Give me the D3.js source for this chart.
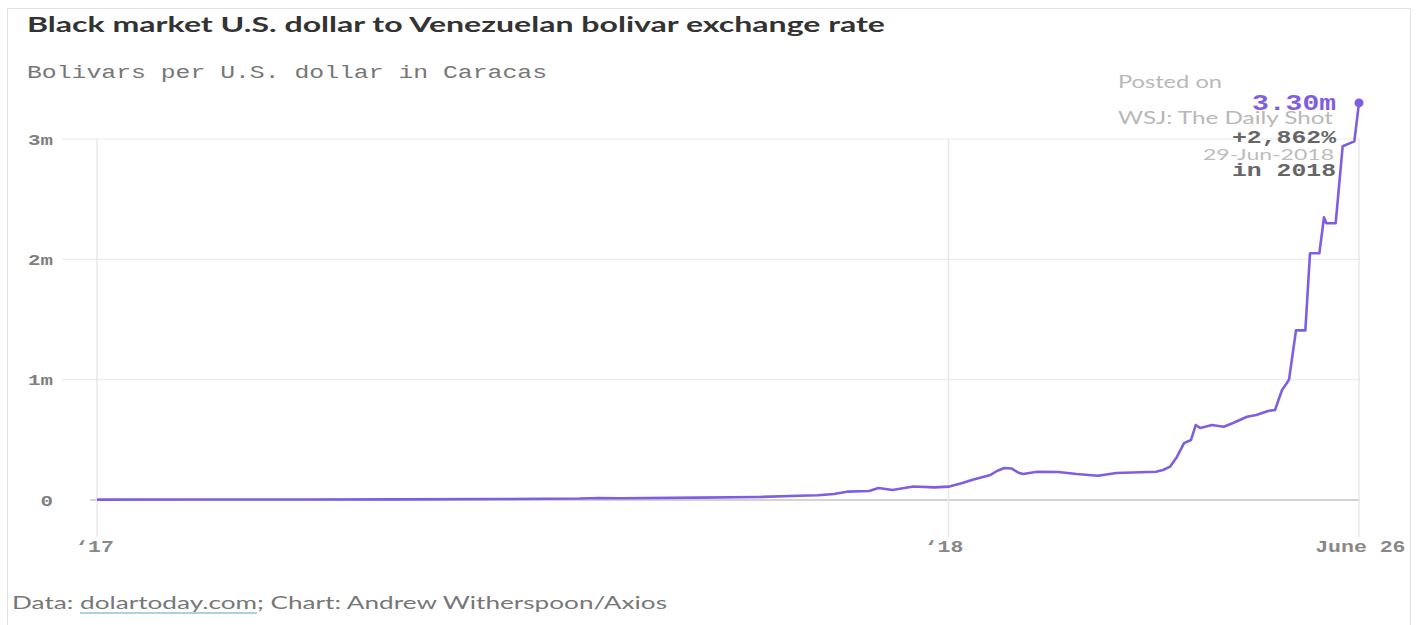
<!DOCTYPE html>
<html><head><meta charset="utf-8">
<script src="https://cdn.jsdelivr.net/npm/d3@7"></script>
<style>
body{margin:0;background:#fff;}
svg{display:block;}
</style></head>
<body>
<svg id="c" width="1421" height="625"></svg>
<script>
const dates = ["2017-01-01","2017-02-14","2017-03-29","2017-05-11","2017-06-22","2017-07-27","2017-08-04","2017-08-13","2017-09-16","2017-10-12","2017-10-29","2017-11-06","2017-11-13","2017-11-19","2017-11-28","2017-12-02","2017-12-08","2017-12-17","2017-12-26","2018-01-01","2018-01-07","2018-01-11","2018-01-19","2018-01-22","2018-01-25","2018-01-28","2018-01-31","2018-02-02","2018-02-08","2018-02-17","2018-02-25","2018-03-06","2018-03-14","2018-03-31","2018-04-03","2018-04-06","2018-04-09","2018-04-12","2018-04-15","2018-04-17","2018-04-19","2018-04-24","2018-04-29","2018-05-03","2018-05-09","2018-05-13","2018-05-18","2018-05-21","2018-05-24","2018-05-26","2018-05-27","2018-05-30","2018-06-03","2018-06-05","2018-06-09","2018-06-11","2018-06-12","2018-06-16","2018-06-19","2018-06-24","2018-06-26"];
const rates = [3200,4000,4000,5500,8000,12000,17000,14000,20000,25000,35000,40000,50000,70000,75000,100000,83000,112000,105000,111000,141000,166000,208000,243000,266000,262000,227000,216000,235000,233000,216000,202000,224000,235000,249000,277000,360000,473000,499000,623000,598000,623000,609000,640000,692000,707000,740000,748000,914000,970000,1000000,1410000,1410000,2050000,2050000,2350000,2300000,2300000,2940000,2980000,3300000];
const yTicks = [0,1000000,2000000,3000000];
const yTickLabels = ["0","1m","2m","3m"];
const xTicks = ["2017-01-01","2018-01-01","2018-06-26"];
const xTickLabels = ["\u201817","\u201818","June 26"];
const titleText = "Black market U.S. dollar to Venezuelan bolivar exchange rate";
const subtitleText = "Bolivars per U.S. dollar in Caracas";
const annoValue = "3.30m", annoChange = "+2,862%", annoYear = "in 2018";

const parse = d3.timeParse("%Y-%m-%d");
const data = dates.map((d,i)=>({date:parse(d), v:rates[i]}));

const svg = d3.select("#c");
const mono = "'Liberation Mono','DejaVu Sans Mono',monospace";
const sans = "Lato,'Open Sans',sans-serif";

// frame
svg.append("rect").attr("x",7.5).attr("y",8.5).attr("width",1403).attr("height",640)
  .attr("fill","none").attr("stroke","#e2e2e2");

const x = d3.scaleTime().domain([parse(xTicks[0]), parse(xTicks[2])]).range([97,1359]);
const y = d3.scaleLinear().domain([0,3000000]).range([500,139]);

// horizontal grid
svg.append("g").selectAll("line").data(yTicks).join("line")
  .attr("x1",d=>d===0?90:62).attr("x2",1360)
  .attr("y1",d=>y(d)).attr("y2",d=>y(d))
  .attr("stroke",d=>d===0?"#c4c4c4":"#ececec").attr("stroke-width",d=>d===0?1.5:1.2);

// vertical grid
svg.append("g").selectAll("line").data(xTicks.map(parse)).join("line")
  .attr("x1",d=>x(d)).attr("x2",d=>x(d)).attr("y1",139).attr("y2",537)
  .attr("stroke","#e8e8e8").attr("stroke-width",1.5);

// y axis labels via d3 axis
const yAxis = d3.axisLeft(y).tickValues(yTicks).tickFormat((d,i)=>yTickLabels[i]).tickSize(0).tickPadding(0);
const ya = svg.append("g").attr("transform","translate(53,0)").call(yAxis);
ya.select(".domain").remove();
ya.selectAll("text").attr("font-family",mono).attr("font-size",15).attr("fill","#808080").attr("font-weight","bold").attr("dy","0.35em")
  .attr("textLength",(d,i)=>yTickLabels[i].length*12.5).attr("lengthAdjust","spacingAndGlyphs");

// x axis labels
const xAxis = d3.axisBottom(x).tickValues(xTicks.map(parse)).tickFormat((d,i)=>xTickLabels[i]).tickSize(0).tickPadding(0);
const xa = svg.append("g").attr("transform","translate(0,541)").call(xAxis);
xa.select(".domain").remove();
xa.selectAll("text").attr("font-family",mono).attr("font-size",16).attr("fill","#888").attr("font-weight","bold")
  .attr("text-anchor",(d,i)=>i===2?"end":"middle")
  .attr("dx",(d,i)=>i===2?46:(i===0?-3:-5))
  .attr("textLength",(d,i)=>xTickLabels[i].length*12.9).attr("lengthAdjust","spacingAndGlyphs");

// line
const line = d3.line().x(d=>x(d.date)).y(d=>y(d.v));
svg.append("path").datum(data).attr("d",line).attr("fill","none")
  .attr("stroke","#7f5ee0").attr("stroke-width",2.6).attr("stroke-linejoin","round");
const last = data[data.length-1];
svg.append("circle").attr("cx",x(last.date)).attr("cy",y(last.v)).attr("r",4.5).attr("fill","#7f5ee0");

// title / subtitle
svg.append("text").attr("x",27).attr("y",32).text(titleText)
  .attr("font-family",sans).attr("font-weight","bold").attr("font-size",21).attr("fill","#333")
  .attr("textLength",858).attr("lengthAdjust","spacingAndGlyphs");
svg.append("text").attr("x",27).attr("y",78).text(subtitleText)
  .attr("font-family",mono).attr("font-size",18).attr("fill","#777")
  .attr("textLength",520).attr("lengthAdjust","spacingAndGlyphs");

// watermark
const wm = svg.append("g").attr("font-family",sans).attr("fill","#b8b8b8").attr("font-size",17);
wm.append("text").attr("x",1118).attr("y",88).text("Posted on").attr("textLength",104).attr("lengthAdjust","spacingAndGlyphs");

// annotation
const ax = 1336;
svg.append("text").attr("x",ax).attr("y",110).attr("text-anchor","end").text(annoValue)
  .attr("font-family",mono).attr("font-weight","bold").attr("font-size",22).attr("fill","#7f5ee0")
  .attr("textLength",84).attr("lengthAdjust","spacingAndGlyphs");
wm.append("text").attr("x",1118).attr("y",124).text("WSJ: The Daily Shot").attr("textLength",215).attr("lengthAdjust","spacingAndGlyphs");
svg.append("text").attr("x",ax).attr("y",143).attr("text-anchor","end").text(annoChange)
  .attr("font-family",mono).attr("font-weight","bold").attr("font-size",19).attr("fill","#666")
  .attr("textLength",104).attr("lengthAdjust","spacingAndGlyphs");
svg.append("text").attr("x",1334).attr("y",160).attr("text-anchor","end").text("29-Jun-2018")
  .attr("font-family",sans).attr("font-size",16).attr("fill","#bdbdbd")
  .attr("textLength",131).attr("lengthAdjust","spacingAndGlyphs");
svg.append("text").attr("x",ax).attr("y",176).attr("text-anchor","end").text(annoYear)
  .attr("font-family",mono).attr("font-weight","bold").attr("font-size",19).attr("fill","#666")
  .attr("textLength",104).attr("lengthAdjust","spacingAndGlyphs");

// footer
const ft = svg.append("text").attr("x",12).attr("y",609).attr("font-family",sans).attr("font-size",17).attr("fill","#777")
  .attr("textLength",655).attr("lengthAdjust","spacingAndGlyphs");
ft.append("tspan").text("Data: ");
ft.append("tspan").text("dolartoday.com");
ft.append("tspan").text("; Chart: Andrew Witherspoon/Axios");
const n = ft.node();
const s = n.getExtentOfChar(6), e = n.getExtentOfChar(19);
svg.append("line").attr("x1",s.x).attr("x2",e.x+e.width).attr("y1",613).attr("y2",613)
  .attr("stroke","#8ec5d6").attr("stroke-width",1.5);
</script>
</body></html>
